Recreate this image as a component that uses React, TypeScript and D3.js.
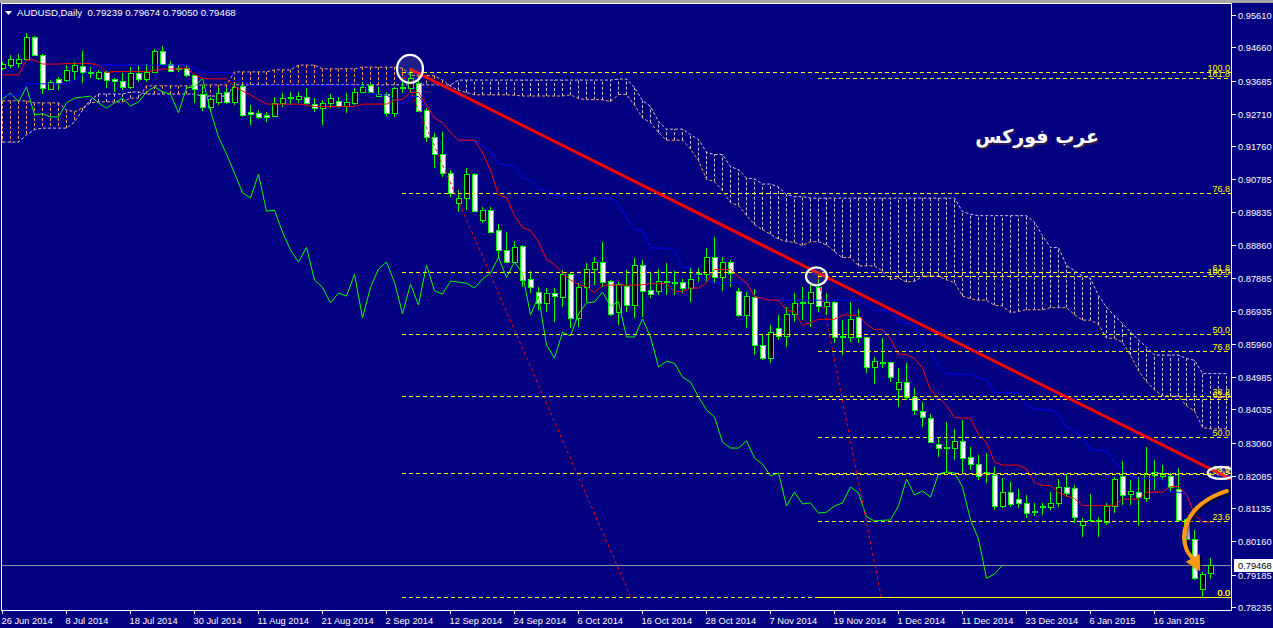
import React from 'react';
import * as d3 from 'd3';

const WIDTH = 1273;
const HEIGHT = 628;
const PLOT = { left: 2, right: 1232, top: 4, bottom: 610 };

const symbolTitle = 'AUDUSD,Daily';

// one label every 8 daily bars, starting at bar 0
const dateLabels = [
  '26 Jun 2014', '8 Jul 2014', '18 Jul 2014', '30 Jul 2014', '11 Aug 2014', '21 Aug 2014',
  '2 Sep 2014', '12 Sep 2014', '24 Sep 2014', '6 Oct 2014', '16 Oct 2014', '28 Oct 2014',
  '7 Nov 2014', '19 Nov 2014', '1 Dec 2014', '11 Dec 2014', '23 Dec 2014', '6 Jan 2015', '16 Jan 2015',
];
const dateLabelStep = 8;

const priceTicks = [
  0.95610, 0.94660, 0.93685, 0.92710, 0.91760, 0.90785, 0.89835, 0.88860, 0.87885, 0.86935,
  0.85960, 0.84985, 0.84035, 0.83060, 0.82085, 0.81135, 0.80160, 0.79185, 0.78235,
];

// daily OHLC, 152 bars
const opens = [
  .9405, .9414, .9420, .9432, .9496, .9444, .9344, .9373, .9370, .9397,
  .9411, .9394, .9376, .9394, .9373, .9367, .9350, .9391, .9373, .9394,
  .9455, .9417, .9405, .9405, .9385, .9329, .9291, .9306, .9335, .9306,
  .9353, .9277, .9274, .9268, .9265, .9303, .9317, .9314, .9320, .9300,
  .9288, .9303, .9309, .9294, .9303, .9335, .9356, .9323, .9329, .9274,
  .9347, .9347, .9361, .9282, .9203, .9153, .9097, .9009, .9024, .9094,
  .8959, .8988, .8930, .8871, .8836, .8882, .8786, .8748, .8716, .8745,
  .8733, .8800, .8672, .8762, .8815, .8836, .8780, .8690, .8765, .8710,
  .8827, .8754, .8751, .8780, .8777, .8777, .8760, .8800, .8800, .8850,
  .8791, .8836, .8751, .8681, .8733, .8592, .8554, .8642, .8619, .8684,
  .8716, .8716, .8762, .8707, .8719, .8619, .8616, .8675, .8616, .8528,
  .8542, .8542, .8463, .8484, .8440, .8399, .8378, .8302, .8293, .8290,
  .8311, .8264, .8243, .8220, .8211, .8120, .8161, .8141, .8129, .8105,
  .8117, .8117, .8129, .8176, .8173, .8064, .8079, .8076, .8073, .8120,
  .8208, .8155, .8161, .8143, .8211, .8208, .8208, .8170, .8082, .8023,
  .7876, .79239,
];
const highs = [
  .9423, .9444, .9447, .9508, .9499, .9447, .9370, .9379, .9414, .9423,
  .9455, .9408, .9400, .9397, .9376, .9391, .9408, .9414, .9417, .9461,
  .9470, .9426, .9414, .9414, .9388, .9356, .9320, .9347, .9347, .9361,
  .9356, .9297, .9282, .9277, .9320, .9332, .9335, .9335, .9347, .9317,
  .9312, .9329, .9320, .9332, .9347, .9361, .9361, .9350, .9335, .9350,
  .9364, .9405, .9367, .9288, .9215, .9218, .9106, .9047, .9112, .9097,
  .8997, .8997, .8947, .8924, .8897, .8885, .8809, .8762, .8760, .8760,
  .8812, .8803, .8774, .8833, .8850, .8894, .8783, .8777, .8812, .8847,
  .8842, .8806, .8815, .8833, .8809, .8786, .8818, .8818, .8876, .8909,
  .8850, .8842, .8760, .8748, .8757, .8621, .8651, .8681, .8704, .8745,
  .8762, .8777, .8797, .8745, .8722, .8666, .8719, .8698, .8616, .8557,
  .8613, .8542, .8525, .8539, .8466, .8425, .8390, .8320, .8367, .8346,
  .8372, .8293, .8270, .8275, .8234, .8202, .8190, .8170, .8152, .8129,
  .8129, .8161, .8199, .8214, .8181, .8085, .8155, .8088, .8129, .8205,
  .8252, .8196, .8205, .8293, .8255, .8240, .8217, .8232, .8085, .8049,
  .7926, .79674,
];
const lows = [
  .9400, .9405, .9405, .9429, .9441, .9329, .9341, .9341, .9364, .9370,
  .9361, .9376, .9370, .9347, .9335, .9341, .9344, .9364, .9364, .9391,
  .9414, .9394, .9394, .9379, .9303, .9280, .9277, .9297, .9300, .9297,
  .9262, .9238, .9256, .9247, .9262, .9291, .9297, .9303, .9297, .9277,
  .9238, .9288, .9288, .9274, .9297, .9332, .9332, .9320, .9265, .9262,
  .9332, .9335, .9277, .9188, .9112, .9086, .9027, .8982, .8988, .8982,
  .8950, .8921, .8847, .8833, .8833, .8762, .8745, .8695, .8690, .8660,
  .8704, .8642, .8645, .8719, .8768, .8762, .8678, .8651, .8690, .8672,
  .8675, .8730, .8739, .8739, .8739, .8745, .8719, .8777, .8777, .8774,
  .8751, .8762, .8675, .8642, .8563, .8548, .8539, .8607, .8587, .8660,
  .8666, .8645, .8690, .8681, .8598, .8563, .8601, .8598, .8510, .8478,
  .8525, .8484, .8410, .8431, .8387, .8352, .8305, .8264, .8217, .8255,
  .8217, .8226, .8196, .8187, .8108, .8114, .8117, .8114, .8085, .8091,
  .8093, .8108, .8117, .8146, .8070, .8028, .8073, .8028, .8064, .8099,
  .8123, .8123, .8061, .8132, .8167, .8196, .8161, .8073, .8014, .7902,
  .7853, .79050,
];
const closes = [
  .9417, .9432, .9432, .9496, .9444, .9347, .9364, .9361, .9400, .9414,
  .9394, .9391, .9394, .9370, .9367, .9350, .9391, .9373, .9394, .9455,
  .9417, .9397, .9403, .9385, .9344, .9291, .9314, .9332, .9306, .9350,
  .9268, .9271, .9262, .9262, .9303, .9317, .9320, .9323, .9303, .9288,
  .9303, .9317, .9294, .9306, .9335, .9350, .9335, .9329, .9274, .9347,
  .9350, .9376, .9280, .9203, .9153, .9097, .9039, .9024, .9094, .8985,
  .8988, .8924, .8871, .8836, .8879, .8783, .8762, .8716, .8745, .8736,
  .8800, .8672, .8762, .8815, .8836, .8777, .8684, .8771, .8710, .8827,
  .8751, .8742, .8780, .8777, .8774, .8760, .8786, .8803, .8850, .8791,
  .8836, .8803, .8681, .8736, .8592, .8554, .8630, .8619, .8684, .8716,
  .8719, .8748, .8707, .8719, .8616, .8616, .8669, .8616, .8528, .8545,
  .8539, .8498, .8484, .8440, .8402, .8381, .8308, .8290, .8290, .8311,
  .8261, .8243, .8208, .8217, .8120, .8161, .8126, .8129, .8099, .8102,
  .8120, .8129, .8176, .8158, .8088, .8076, .8078, .8079, .8120, .8199,
  .8152, .8164, .8146, .8214, .8220, .8217, .8176, .8079, .8023, .7908,
  .7920, .79468,
];

// Ichimoku values for the first bars, which depend on history left of the chart
const tenkanEarly = [.9385, .9385, .9385, .9429, .9429, .9417, .9417, .9417];
const kijunEarly = [
  .9326, .9326, .9326, .9359, .9359, .9359, .9359, .9359, .9359, .9370,
  .9385, .9400, .9414, .9414, .9414, .9414, .9414, .9414, .9414, .9414,
  .9414, .9414, .9414, .9414, .9405,
];
const spanAEarly = [
  .9309, .9309, .9309, .9309, .9303, .9303, .9303, .9303, .9282, .9277,
  .9288, .9303, .9306, .9306, .9306, .9306, .9317, .9317, .9353, .9353,
  .9353, .9353, .9353, .9353, .9353, .9356, .9356, .9356, .9356, .9394,
  .9394, .9394, .9394, .9394, .9400, .9400, .9400, .9414, .9414, .9414,
  .9403, .9403, .9403, .9403, .9403, .9408, .9408, .9408, .9408, .9408,
  .9405,
];
const spanBEarly = [
  .9188, .9188, .9188, .9209, .9224, .9229, .9229, .9229, .9229, .9247,
  .9282, .9312, .9329, .9329, .9329, .9329, .9335, .9335, .9329, .9329,
  .9329, .9329, .9329, .9329, .9329, .9323, .9323, .9323, .9323, .9356,
  .9356, .9356, .9356, .9356, .9356, .9356, .9356, .9356, .9356, .9356,
  .9356, .9356, .9356, .9356, .9356, .9356, .9356, .9356, .9356, .9356,
  .9356, .9356, .9356, .9356, .9356, .9356, .9356, .9370, .9370, .9370,
  .9370, .9370, .9370, .9370, .9370, .9370, .9370, .9370, .9370, .9370,
  .9370, .9370, .9370, .9370, .9370, .9370, .9370,
];

// fibonacci retracements: [bar, price] for 100% and 0%
const fibA = { from: [50, 0.9395], to: [78.6, 0.7853] };
const fibALevels = [0, 23.6, 38.2, 50, 61.8, 76.8, 100];
const fibB = { from: [102, 0.8794], to: [109.9, 0.7853] };
const fibBLevels = [0, 23.6, 38.2, 50, 61.8, 76.8, 100, 161.8];

const trendLine = [[51, 0.9402], [102, 0.8804]];
const circledPoints = [[51, 0.9403], [101.8, 0.8794], [152.4, 0.8217]];
const arrowPoints = [
  [153.1, 0.8164], [151, 0.8143], [149.1, 0.8108], [148.1, 0.8070],
  [147.75, 0.8028], [148.1, 0.7990], [148.9, 0.7965],
];
const arrowTip = [149.75, 0.7929];
const watermark = { text: 'عرب فوركس', bar: 129.4, price: 0.9186 };

const LIME = '#00ff00';
const FONT = '"Liberation Sans", Arial, sans-serif';

export default function App() {
  const n = closes.length;
  const x = d3.scaleLinear().domain([0, n - 1]).range([2, 2 + 8 * (n - 1)]);
  const y = d3.scaleLinear().domain([0.78235, 0.95610]).range([607, 15]);

  const midRange = (end: number, len: number) => {
    const s = Math.max(0, end - len + 1);
    const hi = d3.max(highs.slice(s, end + 1)) as number;
    const lo = d3.min(lows.slice(s, end + 1)) as number;
    return (hi + lo) / 2;
  };
  const tenkan = d3.range(n).map(i => (i < 8 ? tenkanEarly[i] : midRange(i, 9)));
  const kijun = d3.range(n).map(i => (i < 25 ? kijunEarly[i] : midRange(i, 26)));
  const cloudLen = Math.floor((PLOT.right - 2) / 8) + 1;
  const spanA = d3.range(cloudLen).map(i => (i < 51 ? spanAEarly[i] : (tenkan[i - 26] + kijun[i - 26]) / 2));
  const spanB = d3.range(cloudLen).map(i => (i < 77 ? spanBEarly[i] : midRange(i - 26, 52)));

  const line = d3.line<[number, number]>().x(d => d[0]).y(d => d[1]);
  const series = (vals: number[], shift = 0) => line(vals.map((v, i) => [x(i + shift) + 0.5, y(v)] as [number, number])) || '';
  const chikou = closes.slice(26);

  const last = n - 1;
  const header = `${symbolTitle}  ${[opens[last], highs[last], lows[last], closes[last]].map(v => v.toFixed(5)).join(' ')}`;

  const fibs = [
    { ...fibA, levels: fibALevels },
    { ...fibB, levels: fibBLevels },
  ];

  // trend ray to the right edge
  const [t1, t2] = trendLine;
  const slope = (t2[1] - t1[1]) / (t2[0] - t1[0]);
  const edgeBar = x.invert(PLOT.right);
  const rayEnd = [edgeBar, t1[1] + slope * (edgeBar - t1[0])];

  const circleSizes = [[13, 14], [10.5, 9], [13.5, 6]];

  const arrowPx = arrowPoints.map(p => [x(p[0]), y(p[1])] as [number, number]);
  const arrowD = d3.line<[number, number]>().curve(d3.curveCatmullRom)(arrowPx) || '';
  const tipPx = [x(arrowTip[0]), y(arrowTip[1])];
  const lastPx = arrowPx[arrowPx.length - 1];
  const ang = Math.atan2(tipPx[1] - lastPx[1], tipPx[0] - lastPx[0]);
  const headLen = 15, headW = 8;
  const bx = tipPx[0] - headLen * Math.cos(ang), by = tipPx[1] - headLen * Math.sin(ang);
  const head = [
    tipPx,
    [bx + headW * Math.sin(ang), by - headW * Math.cos(ang)],
    [bx - headW * Math.sin(ang), by + headW * Math.cos(ang)],
  ].map(p => p.join(',')).join(' ');

  return (
    <svg width={WIDTH} height={HEIGHT} style={{ position: 'absolute', left: 0, top: 0, display: 'block' }}>
      <defs>
        <clipPath id="plot">
          <rect x={PLOT.left} y={PLOT.top} width={PLOT.right - PLOT.left} height={PLOT.bottom - PLOT.top} />
        </clipPath>
        <filter id="shadow" x="-20%" y="-20%" width="140%" height="140%">
          <feDropShadow dx="2" dy="2" stdDeviation="1.2" floodColor="#000" floodOpacity="0.6" />
        </filter>
      </defs>
      <rect width={WIDTH} height={HEIGHT} fill="#000080" />
      <rect width={WIDTH} height={3} fill="#a8a8a8" />

      <g clipPath="url(#plot)">
        {/* kumo hatching */}
        {spanA.map((a, i) => (
          <line key={'k' + i} x1={x(i) + 0.5} x2={x(i) + 0.5} y1={y(a)} y2={y(spanB[i])}
            stroke={a >= spanB[i] ? '#f4a460' : '#d8bfd8'} strokeDasharray="3,2" />
        ))}
        <path d={series(spanA)} fill="none" stroke="#f4a460" strokeDasharray="3,2" />
        <path d={series(spanB)} fill="none" stroke="#d8bfd8" strokeDasharray="3,2" />

        {/* bid line */}
        <line x1={PLOT.left} x2={PLOT.right} y1={Math.round(y(closes[last])) + 0.5} y2={Math.round(y(closes[last])) + 0.5} stroke="#8a909c" />

        {/* candles */}
        <g shapeRendering="crispEdges">
          {closes.map((c, i) => {
            const o = opens[i];
            const cx = Math.round(x(i)) + 0.5;
            const top = Math.round(y(Math.max(o, c))) + 0.5;
            const bot = Math.round(y(Math.min(o, c))) + 0.5;
            return (
              <g key={'c' + i}>
                <line x1={cx} x2={cx} y1={y(highs[i])} y2={y(lows[i])} stroke={LIME} />
                {bot - top < 1 ? (
                  <line x1={cx - 2.5} x2={cx + 2.5} y1={top} y2={top} stroke={LIME} />
                ) : (
                  <rect x={cx - 2.5} y={top} width={5} height={bot - top} fill={c > o ? '#000000' : '#ffffff'} stroke={LIME} />
                )}
              </g>
            );
          })}
        </g>

        {/* ichimoku lines */}
        <path d={series(chikou)} fill="none" stroke={LIME} />
        <path d={series(kijun)} fill="none" stroke="#0000ff" />
        <path d={series(tenkan)} fill="none" stroke="#ff0000" />

        {/* fibonacci retracements */}
        {fibs.map((f, k) => {
          const x0 = x(Math.min(f.from[0], f.to[0]));
          const range = f.from[1] - f.to[1];
          return (
            <g key={'f' + k}>
              <line x1={x(f.from[0])} y1={y(f.from[1])} x2={x(f.to[0])} y2={y(f.to[1])}
                stroke="#ff0000" strokeDasharray="3,3" />
              {f.levels.map(l => {
                const ly = Math.round(y(f.to[1] + (range * l) / 100)) + 0.5;
                return (
                  <g key={l}>
                    <line x1={x0} x2={PLOT.right} y1={ly} y2={ly} stroke="#ffff00" strokeDasharray="4,3" />
                    <text x={PLOT.right - 2} y={ly - 1.5} fill="#ffff00" fontSize={9} fontFamily={FONT} textAnchor="end">
                      {l.toFixed(1)}
                    </text>
                  </g>
                );
              })}
            </g>
          );
        })}

        {/* trend line */}
        <line x1={x(t1[0])} y1={y(t1[1])} x2={x(rayEnd[0])} y2={y(rayEnd[1])} stroke="#ff0000" strokeWidth={3} />

        {/* circled touches */}
        {circledPoints.map((p, k) => (
          <ellipse key={'e' + k} cx={x(p[0])} cy={y(p[1])} rx={circleSizes[k][0]} ry={circleSizes[k][1]}
            fill="rgba(170,170,190,0.18)" stroke="#ffffff" strokeWidth={2.2} />
        ))}

        {/* orange arrow */}
        <g filter="url(#shadow)">
          <path d={arrowD} fill="none" stroke="#ff9a10" strokeWidth={4} strokeLinecap="round" />
          <polygon points={head} fill="#ff9a10" />
        </g>

        {/* watermark */}
        <text x={x(watermark.bar) + 1.5} y={y(watermark.price) + 2} fill="#2a1a50" fontSize={19} fontWeight="bold"
          fontFamily='"DejaVu Sans", sans-serif' textAnchor="middle">{watermark.text}</text>
        <text x={x(watermark.bar)} y={y(watermark.price)} fill="#ffffff" fontSize={19} fontWeight="bold"
          fontFamily='"DejaVu Sans", sans-serif' textAnchor="middle">{watermark.text}</text>
      </g>

      {/* frame */}
      <rect x={PLOT.left - 0.5} y={PLOT.top - 0.5} width={PLOT.right - PLOT.left} height={PLOT.bottom - PLOT.top + 1}
        fill="none" stroke="#ffffff" />

      {/* price axis */}
      {priceTicks.map(t => {
        const ty = Math.round(y(t)) + 0.5;
        return (
          <g key={t}>
            <line x1={PLOT.right} x2={PLOT.right + 4} y1={ty} y2={ty} stroke="#ffffff" />
            <text x={PLOT.right + 6} y={ty + 3.5} fill="#ffffff" fontSize={9.3} fontFamily={FONT}>{t.toFixed(5)}</text>
          </g>
        );
      })}
      <rect x={PLOT.right + 2} y={Math.round(y(closes[last])) - 6} width={WIDTH - PLOT.right - 2} height={13} fill="#ffffff" />
      <text x={PLOT.right + 6} y={Math.round(y(closes[last])) + 4} fill="#000000" fontSize={9.3} fontFamily={FONT}>
        {closes[last].toFixed(5)}
      </text>

      {/* time axis */}
      {dateLabels.map((d, k) => {
        const tx = Math.round(x(k * dateLabelStep)) + 0.5;
        return (
          <g key={d}>
            <line x1={tx} x2={tx} y1={PLOT.bottom} y2={PLOT.bottom + 4} stroke="#ffffff" />
            <text x={tx - 1} y={624} fill="#ffffff" fontSize={9.3} fontFamily={FONT}>{d}</text>
          </g>
        );
      })}

      {/* header */}
      <polygon points="5,11 12,11 8.5,15" fill="#ffffff" />
      <text x={17} y={16} fill="#ffffff" fontSize={9.7} fontFamily={FONT} style={{ whiteSpace: 'pre' }}>{header}</text>
    </svg>
  );
}
